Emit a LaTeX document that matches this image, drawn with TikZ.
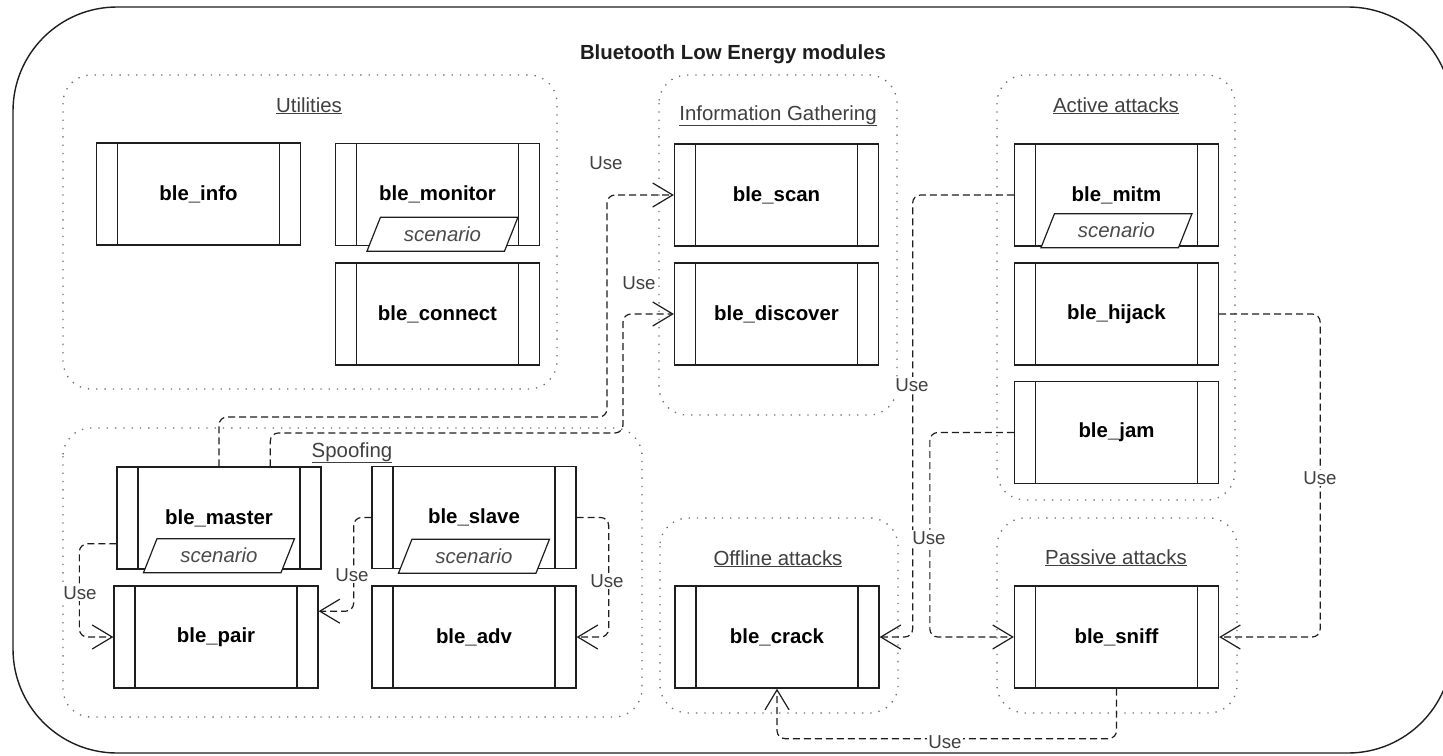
\documentclass[tikz,border=0pt]{standalone}
\usepackage{fontspec}
\setmainfont{Liberation Sans}
\usetikzlibrary{arrows.meta,shapes.geometric,calc}
\definecolor{ink}{HTML}{1E1E1E}
\definecolor{dotgray}{HTML}{6E6E6E}
\tikzset{
  module/.style={draw=ink, line width=1.3pt, fill=white,
    minimum width=204pt, minimum height=102pt, inner sep=0pt,
    font=\fontsize{20.4}{24}\selectfont\bfseries,
    path picture={
      \draw[ink, line width=1.3pt]
        ([xshift=21pt]path picture bounding box.north west) -- ([xshift=21pt]path picture bounding box.south west)
        ([xshift=-21pt]path picture bounding box.north east) -- ([xshift=-21pt]path picture bounding box.south east);
    }},
  scen/.style={trapezium, trapezium left angle=48, trapezium right angle=132,
    trapezium stretches body, draw=ink, line width=1.2pt, fill=white,
    minimum width=151pt, minimum height=34pt, inner sep=0pt,
    font=\fontsize{20.4}{24}\selectfont\itshape, text=ink!80},
  grp/.style={draw=dotgray, line width=1.3pt, dash pattern=on 1.3pt off 7pt, rounded corners=28pt},
  grptitle/.style={font=\fontsize{20.4}{24}\selectfont, text=ink!85, inner sep=0pt, anchor=base},
  use/.style={draw=ink, line width=1.2pt, dash pattern=on 7pt off 4pt, rounded corners=8pt,
    -{Straight Barb[length=20pt,width=24pt,line width=1.2pt]}},
  uselabel/.style={fill=white, inner sep=1pt, font=\fontsize{18.7}{22}\selectfont, text=ink!85},
  frame/.style={draw=ink, line width=1.4pt, rounded corners=104pt}
}
\begin{document}
\begin{tikzpicture}[x=1pt, y=-1pt]
\useasboundingbox (0,0) rectangle (1443,755);
\fill[white] (0,0) rectangle (1443,755);

% outer frame and heading
\draw[frame] (13,7) rectangle (1452,753);
\node[font=\fontsize{20.4}{24}\selectfont\bfseries, text=ink] (heading) at (733,54) {Bluetooth Low Energy modules};

% module groups
\draw[grp] (63,75) rectangle (557,389);
\draw[grp] (659,75) rectangle (897,415);
\draw[grp] (997,75) rectangle (1235,500);
\draw[grp] (63,428) rectangle (642,717);
\draw[grp] (660,518) rectangle (898,713);
\draw[grp] (997,518) rectangle (1237,713);

\node[grptitle] (tutil) at (309,112) {\underline{Utilities}};
\node[grptitle] (tinfo) at (778,120) {\underline{Information Gathering}};
\node[grptitle] (tactive) at (1116,112) {\underline{Active attacks}};
\node[grptitle] (tspoof) at (352,457) {\underline{Spoofing}};
\node[grptitle] (toffline) at (778,565) {\underline{Offline attacks}};
\node[grptitle] (tpassive) at (1116,564) {\underline{Passive attacks}};

% modules
\node[module] (info) at (198.5,194) {ble\_info};
\node[module] (monitor) at (437.5,194.5) {ble\_monitor};
\node[module] (connect) at (437.5,314) {ble\_connect};
\node[module] (scan) at (776.5,195) {ble\_scan};
\node[module] (discover) at (776.5,314) {ble\_discover};
\node[module] (mitm) at (1116.5,195) {ble\_mitm};
\node[module] (hijack) at (1116.5,314) {ble\_hijack};
\node[module] (jam) at (1116.5,432.5) {ble\_jam};
\node[module] (master) at (219,518) {ble\_master};
\node[module] (slave) at (474,517.5) {ble\_slave};
\node[module] (pair) at (216,637) {ble\_pair};
\node[module] (adv) at (474,637) {ble\_adv};
\node[module] (crack) at (777,637) {ble\_crack};
\node[module] (sniff) at (1116.5,637) {ble\_sniff};

% scenario tags
\node[scen] (monitorsc) at ($(monitor.south)+(5,-12)$) {scenario};
\node[scen] (mitmsc) at ($(mitm.south)+(0,-16)$) {scenario};
\node[scen] (mastersc) at ($(master.south)+(0,-14)$) {scenario};
\node[scen] (slavesc) at ($(slave.south)+(0,-13)$) {scenario};

% attachment points
\coordinate (masterTop) at ($(master.north)!0.5!(master.north east)$);
\coordinate (masterLeft) at ($(master.west)!0.5!(master.south west)$);
\coordinate (pairRight) at ($(pair.east)!0.5!(pair.north east)$);

% "Use" dependencies
\draw[use] (master.north) |- (607,417) |- (scan.west);
\draw[use] (masterTop) |- (623,433) |- (discover.west);
\draw[use] (masterLeft) -| ($(pair.west)+(-34,0)$) -- (pair.west);
\draw[use] (slave.west) -| ($(pairRight)+(35,0)$) -- (pairRight);
\draw[use] (slave.east) -| ($(adv.east)+(32,0)$) -- (adv.east);
\draw[use] (mitm.west) -| ($(crack.east)+(33,0)$) -- (crack.east);
\draw[use] (jam.west) -| ($(sniff.west)+(-84,0)$) -- (sniff.west);
\draw[use] (hijack.east) -| ($(sniff.east)+(101,0)$) -- (sniff.east);
\draw[use] (sniff.south) |- ($(crack.south)+(0,50)$) -- (crack.south);

\node[uselabel] (u1) at (606,163) {Use};
\node[uselabel] (u2) at (639,283) {Use};
\node[uselabel] (u3) at (80,593) {Use};
\node[uselabel] (u4) at (352,575) {Use};
\node[uselabel] (u5) at (607,581) {Use};
\node[uselabel] (u6) at (912,385) {Use};
\node[uselabel] (u7) at (929,538) {Use};
\node[uselabel] (u8) at (1320,478) {Use};
\node[uselabel] (u9) at (945,742) {Use};
\end{tikzpicture}
\end{document}
